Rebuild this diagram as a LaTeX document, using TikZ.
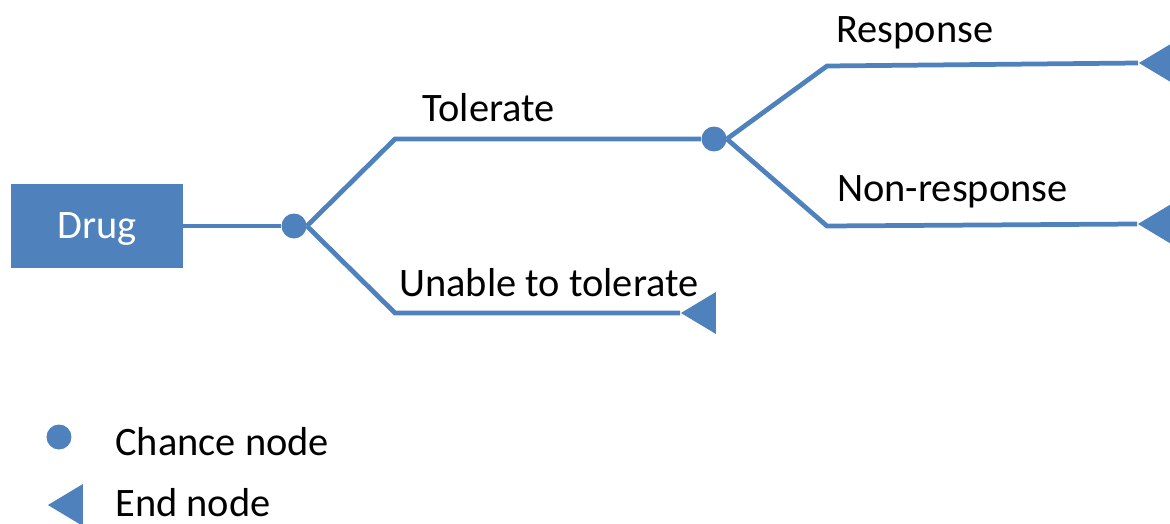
\documentclass[tikz,border=0pt]{standalone}
\usepackage{fontspec}
\setmainfont{Carlito}
\usetikzlibrary{shapes.geometric,positioning}
\definecolor{treeblue}{HTML}{4F81BD}

\begin{document}
\begin{tikzpicture}[x=0.02cm, y=-0.02cm, font=\fontsize{23}{27}\selectfont]
  \tikzstyle{decision} = [rectangle, fill=treeblue, text=white, minimum width=3.44cm, minimum height=1.7cm, text depth=0pt, inner sep=0pt]
  \tikzstyle{chance} = [circle, fill=treeblue, minimum size=0.5cm, inner sep=0pt]
  \tikzstyle{endnode} = [isosceles triangle, isosceles triangle stretches, shape border rotate=180, fill=treeblue, minimum width=0.84cm, minimum height=0.7cm, inner sep=0pt]
  \tikzstyle{branch} = [treeblue, line width=0.095cm]
  \tikzstyle{branchtext} = [anchor=base west, inner sep=0pt]

  \useasboundingbox (0,0) rectangle (1170,524);

  \node [decision] (drug) at (97,226) {Drug};
  \node [chance] (c1) at (294,226) {};
  \node [chance] (c2) at (714,139) {};
  \node [endnode, anchor=apex] (e1) at (680,313) {};
  \node [endnode, anchor=apex] (e2) at (1138,63) {};
  \node [endnode, anchor=apex] (e3) at (1137,224) {};

  \coordinate (t1) at (395,139);
  \coordinate (u1) at (395,313);
  \coordinate (r1) at (827,66);
  \coordinate (n1) at (827,226);

  \draw [branch] (drug) -- (c1);
  \draw [branch] (c1.east) -- (t1) -- (c2);
  \draw [branch] (c1.east) -- (u1) -- (e1.apex);
  \draw [branch] (c2.east) -- (r1) -- (e2.apex);
  \draw [branch] (c2.east) -- (n1) -- (e3.apex);

  \node [branchtext] (ltol) at (422,121) {Tolerate};
  \node [branchtext] (lunable) at (399,296) {Unable to tolerate};
  \node [branchtext] (lresp) at (836,42) {Response};
  \node [branchtext] (lnonresp) at (837,201) {Non-response};

  % legend
  \node [chance] (keychance) at (59,437) {};
  \node [branchtext] (lchance) at (115,455) {Chance node};
  \node [endnode, anchor=apex] (keyend) at (47,505) {};
  \node [branchtext, text depth=0pt] (lend) at (115,516) {End node};
\end{tikzpicture}
\end{document}
